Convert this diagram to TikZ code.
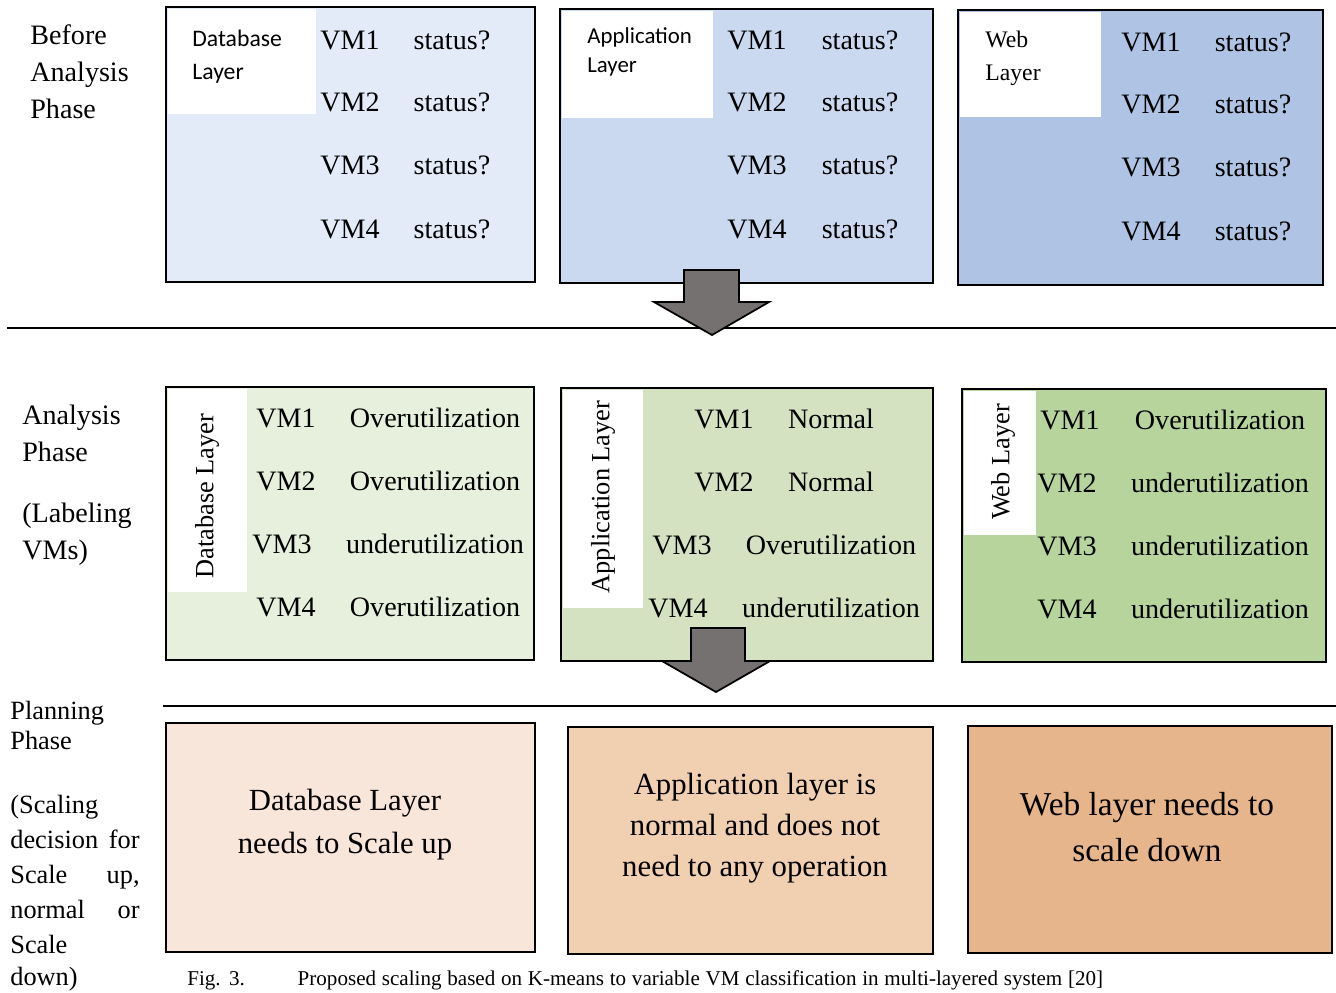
\documentclass[tikz,border=0pt]{standalone}
\usepackage{fontspec}
\setmainfont{Liberation Serif}
\newfontfamily\labelsans{Carlito}
\definecolor{blueA}{HTML}{E4EBF8}
\definecolor{blueB}{HTML}{CAD9EF}
\definecolor{blueC}{HTML}{AFC4E5}
\definecolor{greenA}{HTML}{E7EFDD}
\definecolor{greenB}{HTML}{D4E2C1}
\definecolor{greenC}{HTML}{B6D49B}
\definecolor{peachA}{HTML}{F9E6DA}
\definecolor{peachB}{HTML}{F1CFB1}
\definecolor{peachC}{HTML}{E7B58B}
\definecolor{arrowgray}{HTML}{767171}
\begin{document}
\begin{tikzpicture}[x=0.02cm,y=-0.02cm,
  txt/.style={font=\fontsize{16}{19}\selectfont,inner sep=0pt},
  phase/.style={font=\fontsize{16}{21}\selectfont,inner sep=0pt,anchor=west,align=left},
  plan/.style={font=\fontsize{15}{18}\selectfont,inner sep=0pt},
  side/.style={font=\fontsize{15}{18}\selectfont,inner sep=0pt,rotate=90},
  decision/.style={inner sep=0pt,align=center},
  frame/.style={line width=1.6pt},
  blockarrow/.style={fill=arrowgray,draw=black,line width=1pt,line join=miter}]
\useasboundingbox (0,0) rectangle (1336,992);
\clip (0,0) rectangle (1336,992);
% before analysis
\node[phase] (before) at (30,72) {Before\\Analysis\\Phase};
\fill[blueA] (166,7) rectangle (535,282);
\fill[white] (168,9) rectangle (316,114);
\draw[frame] (166,7) rectangle (535,282);
\node[inner sep=0pt,anchor=west,align=left,font=\labelsans\fontsize{13.5}{18.7}\selectfont] (dbtop) at (192,56.5) {Database\\Layer};
\fill[blueB] (560,9) rectangle (933,283);
\fill[white] (562,11) rectangle (713,118);
\draw[frame] (560,9) rectangle (933,283);
\node[inner sep=0pt,anchor=west,align=left,font=\labelsans\fontsize{13}{16.4}\selectfont] (apptop) at (587,51.5) {Application\\Layer};
\fill[blueC] (958,10) rectangle (1323,285);
\fill[white] (960,12) rectangle (1101,117);
\draw[frame] (958,10) rectangle (1323,285);
\node[inner sep=0pt,anchor=west,align=left,font=\fontsize{13.5}{18.7}\selectfont] (webtop) at (985,58.5) {Web\\Layer};
\foreach \n/\y in {1/40,2/102,3/165,4/229}{
  \node[txt] (dbvmA\n) at (350,\y) {VM\n};
  \node[txt] (dbstA\n) at (452,\y) {status?};
  \node[txt] (appvmA\n) at (757,\y+0.5) {VM\n};
  \node[txt] (appstA\n) at (860,\y+0.5) {status?};
  \node[txt] (webvmA\n) at (1151,\y+2) {VM\n};
  \node[txt] (webstA\n) at (1253,\y+2) {status?};
}
\draw[line width=1.2pt] (7,328) -- (1336,328);
\draw[blockarrow] (684,270) -- (739,270) -- (739,302) -- (769,302) -- (712,335) -- (654,302) -- (684,302) -- cycle;
% analysis
\node[phase] (analysis) at (22,433.5) {Analysis\\Phase};
\node[phase] (labeling) at (22,534) {(Labeling\\VMs)};
\fill[greenA] (166,387) rectangle (534,660);
\fill[white] (168,389) rectangle (247,592);
\draw[frame] (166,387) rectangle (534,660);
\node[side] (dbside) at (207,496) {Database Layer};
\fill[greenB] (561,388) rectangle (933,661);
\fill[white] (563,390) rectangle (643,608);
\draw[frame] (561,388) rectangle (933,661);
\node[side] (appside) at (603,497) {Application Layer};
\fill[greenC] (962,389) rectangle (1326,662);
\fill[white] (964,391) rectangle (1036,535);
\draw[frame] (962,389) rectangle (1326,662);
\node[side] (webside) at (1003,462) {Web Layer};
\foreach \n/\y/\vx/\st in {1/418/286/Overutilization,2/481/286/Overutilization,3/544/282/underutilization,4/607/286/Overutilization}{
  \node[txt] (dbvmB\n) at (\vx,\y) {VM\n};
  \node[txt] (dbstB\n) at (435,\y) {\st};
}
\foreach \n/\y/\vx/\st in {1/419/724/Normal,2/482/724/Normal,3/545/682/Overutilization,4/608/678/underutilization}{
  \node[txt] (appvmB\n) at (\vx,\y) {VM\n};
  \node[txt] (appstB\n) at (831,\y) {\st};
}
\foreach \n/\y/\vx/\st in {1/420/1070/Overutilization,2/483/1067/underutilization,3/546/1067/underutilization,4/609/1067/underutilization}{
  \node[txt] (webvmB\n) at (\vx,\y) {VM\n};
  \node[txt] (webstB\n) at (1220,\y) {\st};
}
\draw[blockarrow] (691,628) -- (745,628) -- (745,661) -- (770,661) -- (716,692) -- (662,661) -- (691,661) -- cycle;
\draw[line width=1.2pt] (163,706) -- (1336,706);
% planning
\node[plan,anchor=west,align=left,font=\fontsize{15}{17.5}\selectfont] (planning) at (10,725.5) {Planning\\Phase};
\node[plan,anchor=base west] (scalingA) at (10,813) {(Scaling};
\node[plan,anchor=base west] (scalingB) at (10,848) {decision};
\node[plan,anchor=base east] (scalingC) at (140,848) {for};
\node[plan,anchor=base west] (scalingD) at (10,883) {Scale};
\node[plan,anchor=base east] (scalingE) at (140,883) {up,};
\node[plan,anchor=base west] (scalingF) at (10,918) {normal};
\node[plan,anchor=base east] (scalingG) at (140,918) {or};
\node[plan,anchor=base west] (scalingH) at (10,953) {Scale};
\node[plan,anchor=base west] (scalingI) at (10,985) {down)};
\draw[frame,fill=peachA] (166,723) rectangle (535,952);
\node[decision,font=\fontsize{17.5}{24.4}\selectfont] (dbplan) at (345,825) {Database Layer\\needs to Scale up};
\draw[frame,fill=peachB] (568,727) rectangle (933,954);
\node[decision,font=\fontsize{17.5}{23.2}\selectfont] (appplan) at (755,828) {Application layer is\\normal and does not\\need to any operation};
\draw[frame,fill=peachC] (968,726) rectangle (1332,953);
\node[decision,font=\fontsize{19}{26}\selectfont] (webplan) at (1147,827) {Web layer needs to\\scale down};
\node[inner sep=0pt,anchor=base west,font=\fontsize{12}{14}\selectfont] (caption) at (187,985) {\makebox[18.32cm][s]{Fig. 3.\hspace{2.5em}Proposed scaling based on K-means to variable VM classification in multi-layered system [20]}};
\end{tikzpicture}
\end{document}
